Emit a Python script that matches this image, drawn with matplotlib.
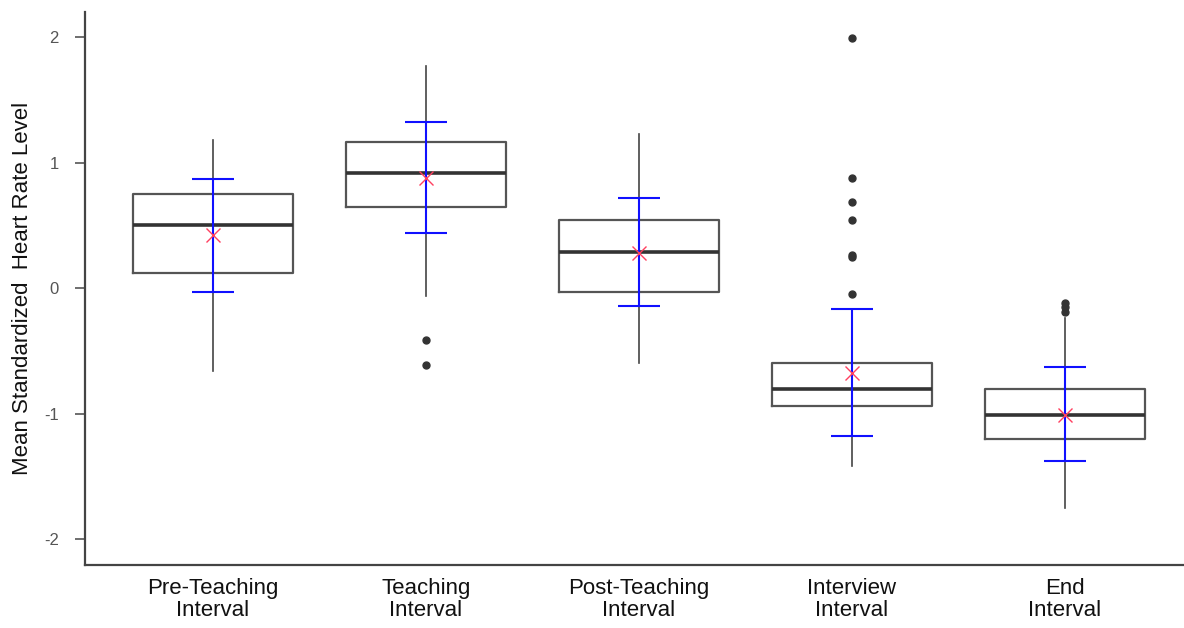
# -*- coding: utf-8 -*-

#---------------------------------------------------------------------
# ライブラリの読み込み
#---------------------------------------------------------------------
import numpy as np
import matplotlib as mpl
mpl.use('Agg')
import matplotlib.pyplot as plt

#---------------------------------------------------------------------
# データ
#---------------------------------------------------------------------
categories = ['Pre-Teaching\nInterval', 'Teaching\nInterval', 'Post-Teaching\nInterval',
              'Interview\nInterval', 'End\nInterval']

whisker_low = [-0.66, -0.06, -0.60, -1.42, -1.75]
q1 = [0.12, 0.65, -0.03, -0.94, -1.20]
median = [0.50, 0.92, 0.29, -0.80, -1.01]
q3 = [0.75, 1.16, 0.54, -0.60, -0.80]
whisker_high = [1.18, 1.77, 1.23, -0.17, -0.24]
outliers = [
    [],
    [-0.41, -0.61],
    [],
    [1.99, 0.88, 0.69, 0.54, 0.26, 0.25, -0.05],
    [-0.12, -0.15, -0.19],
]

means = [0.42, 0.88, 0.28, -0.68, -1.01]
err_high = [0.87, 1.32, 0.72, -0.17, -0.63]
err_low = [-0.03, 0.44, -0.14, -1.18, -1.38]

y_ticks = [-2, -1, 0, 1, 2]

#---------------------------------------------------------------------
# グラフの描画
#---------------------------------------------------------------------
plt.rcParams['font.family'] = ['Liberation Sans', 'DejaVu Sans']

fig = plt.figure(figsize=(11.84, 6.28), dpi=100)
ax = fig.add_axes([0.072, 0.100, 0.928, 0.881])

x_pos = np.arange(len(categories))

stats = []
for i in range(len(categories)):
    stats.append({
        'med': median[i], 'q1': q1[i], 'q3': q3[i],
        'whislo': whisker_low[i], 'whishi': whisker_high[i],
        'fliers': outliers[i],
    })

ax.bxp(stats, positions=x_pos, widths=0.75, showcaps=False,
       boxprops=dict(color='#555555', linewidth=1.6),
       medianprops=dict(color='#333333', linewidth=2.6),
       whiskerprops=dict(color='#444444', linewidth=1.2),
       flierprops=dict(marker='o', markerfacecolor='#333333',
                       markeredgecolor='#333333', markersize=5))

# 平均値と誤差範囲
yerr = [np.array(means) - np.array(err_low), np.array(err_high) - np.array(means)]
ax.errorbar(x_pos, means, yerr=yerr, fmt='none', ecolor='#1010ff',
            elinewidth=1.5, capsize=15, capthick=1.5, zorder=4)
ax.plot(x_pos, means, linestyle='none', marker='x', color='#ff4060',
        markersize=10, markeredgewidth=1.0, zorder=5)

# 軸の設定
ax.set_xlim(-0.6, 4.56)
ax.set_ylim(-2.207, 2.2)
ax.set_xticks(x_pos)
ax.set_xticklabels(categories, fontsize=16, color='#111111', linespacing=1.1)
ax.tick_params(axis='x', length=0, pad=9)
ax.set_yticks(y_ticks)
ax.set_yticklabels([str(v) for v in y_ticks], fontsize=12, color='#555555')
ax.tick_params(axis='y', length=7, width=1.2, color='#555555', pad=12)
ax.set_ylabel('Mean Standardized  Heart Rate Level', fontsize=16, color='#111111',
              labelpad=8)

for side in ['top', 'right']:
    ax.spines[side].set_visible(False)
for side in ['left', 'bottom']:
    ax.spines[side].set_color('#444444')
    ax.spines[side].set_linewidth(1.6)

fig.savefig('out.png', dpi=100)
